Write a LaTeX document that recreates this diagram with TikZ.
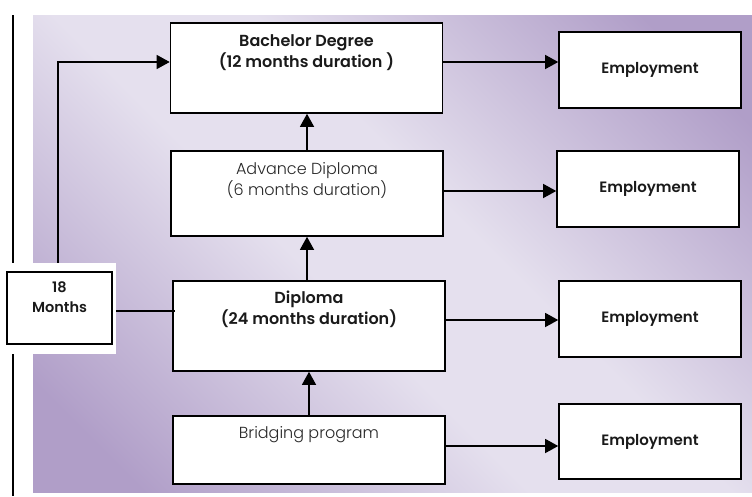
\documentclass[tikz,border=0pt]{standalone}
\usepackage{fontspec}
\setmainfont{Poppins}[BoldFont={Poppins SemiBold}]
\newfontfamily\lightfont{Poppins Light}
\usetikzlibrary{arrows.meta,positioning}
\tikzset{
  box/.style = {draw=black, line width=1.6pt, fill=white, inner sep=0pt},
  stage/.style = {box, minimum width=272pt},
  job/.style = {box, minimum width=182pt, minimum height=76pt, text=my_black,
  font=\fontsize{15}{20}\selectfont\bfseries},
  boldtext/.style = {align=center, inner sep=0pt, text=my_black,
  font=\fontsize{16}{21}\selectfont\bfseries},
  thintext/.style = {align=center, inner sep=0pt, text=my_gray,
  font=\fontsize{16}{21}\selectfont\lightfont}
}
\definecolor{panel_dark}{RGB}{176,158,200}
\definecolor{panel_light}{RGB}{229,224,238}
\definecolor{my_black}{RGB}{26,26,26}
\definecolor{my_gray}{RGB}{40,40,40}
\pgfdeclareverticalshading{panelshade}{100bp}{color(0bp)=(panel_dark); color(21bp)=(panel_dark);
  color(44bp)=(panel_light); color(56bp)=(panel_light); color(79bp)=(panel_dark); color(100bp)=(panel_dark)}

\begin{document}
\begin{tikzpicture}[x=1pt, y=-1pt, >={Triangle[length=13pt,width=14pt]},
        flow/.style={->, line width=1.3pt},
        link/.style={line width=1.3pt}]
    \useasboundingbox (0,0) rectangle (752,496);
    % background panel and left rule
    \begin{scope}[y=1pt]
    \shade[shading=panelshade, shading angle=-45] (33,-492) rectangle (752,-15);
    \end{scope}
    \draw[line width=2pt] (12.7,15) -- (12.7,496);
    \node[fill=white, inner sep=0pt, minimum width=116pt, minimum height=91pt] (gap) at (58,308.5) {};
    % boxes
    \node[box, minimum width=105pt, minimum height=72pt] (months) at (59.5,308) {};
    \node[stage, minimum height=90pt] (bach) at (306.5,68) {};
    \node[stage, minimum height=85pt] (adv) at (307,193.5) {};
    \node[stage, minimum height=90pt] (dipl) at (309,326) {};
    \node[stage, minimum height=68pt] (bridge) at (309,450) {};
    \node[job] (emp1) at (650,70) {Employment};
    \node[job] (emp2) at (648,189) {Employment};
    \node[job] (emp3) at (650,319) {Employment};
    \node[job, minimum height=75pt] (emp4) at (650,441.5) {Employment};
    % texts
    \node[boldtext, font=\fontsize{14.5}{20}\selectfont\bfseries, below=10pt of months.north] (monthstext) {18\\Months};
    \node[boldtext, below=12pt of bach.north] (bachtext) {Bachelor Degree\\(12 months duration )};
    \node[thintext, below=12pt of adv.north] (advtext) {Advance Diploma\\(6 months duration)};
    \node[boldtext, below=11pt of dipl.north] (dipltext) {Diploma\\(24 months duration)};
    \node[thintext, below=11pt of bridge.north] (bridgetext) {Bridging program};
    % connectors
    \draw[flow] ([yshift=6pt]bach.east) -- ([yshift=6pt]bach.east -| emp1.west);
    \draw[flow] ([yshift=2.5pt]adv.east) -- ([yshift=2.5pt]adv.east -| emp2.west);
    \draw[flow] ([yshift=6pt]dipl.east) -- ([yshift=6pt]dipl.east -| emp3.west);
    \draw[flow] ([yshift=4pt]bridge.east) -- ([yshift=4pt]bridge.east -| emp4.west);
    \draw[flow] (adv.north) -- (adv.north |- bach.south);
    \draw[flow] ([xshift=-2pt]dipl.north) -- ([xshift=-2pt]dipl.north |- adv.south);
    \draw[flow] (bridge.north) -- (dipl.south);
    \draw[flow] ([xshift=-1.5pt]months.north |- gap.north) |- ([yshift=6pt]bach.west);
    \draw[link] ([yshift=-3pt]months.east -| gap.east) -- ([yshift=-3pt,xshift=3pt]months.east -| dipl.west);
\end{tikzpicture}
\end{document}
